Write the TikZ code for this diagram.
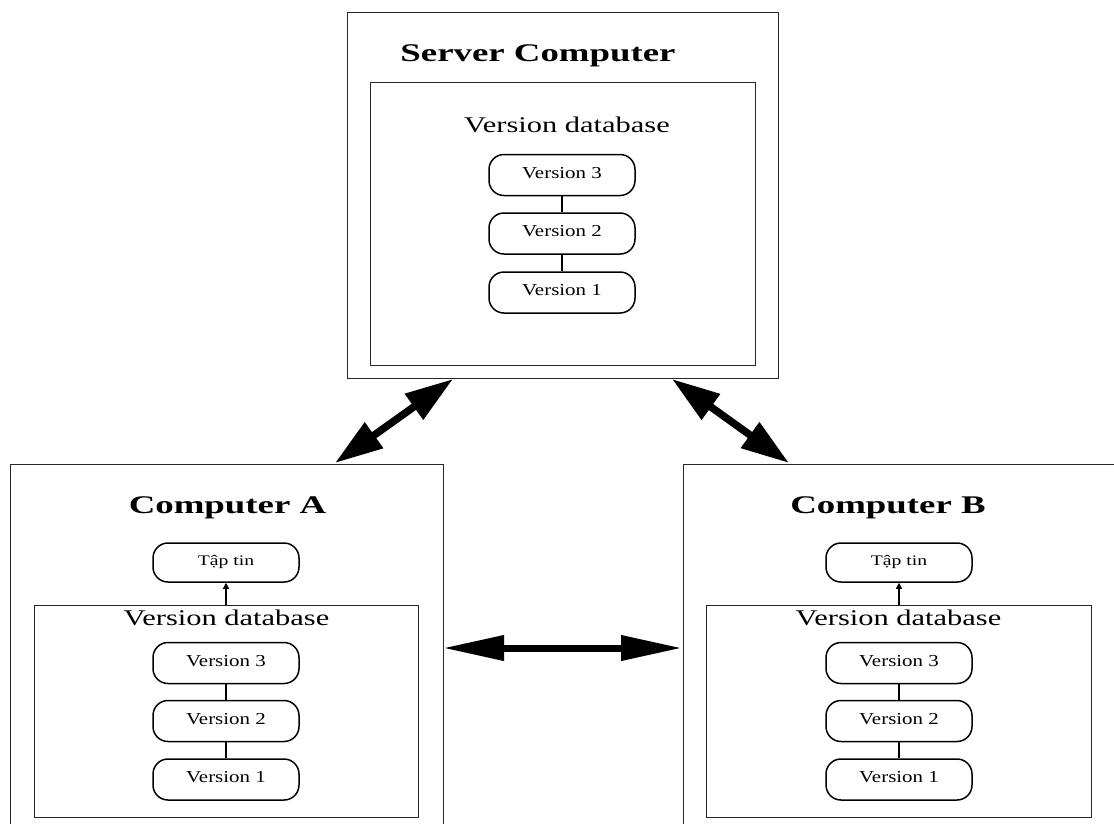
\documentclass[tikz,border=0pt]{standalone}
\usepackage{fontspec}
\setmainfont{Liberation Serif}
\newfontfamily\headfont[FakeStretch=1.45]{Liberation Serif Bold}
\newfontfamily\dbfont[FakeStretch=1.36]{Liberation Serif}
\newfontfamily\verfont[FakeStretch=1.25]{Liberation Serif}
\newfontfamily\filefont[FakeStretch=1.35]{Liberation Serif}
\usetikzlibrary{arrows.meta}

\tikzset{
  frame/.style={draw=black!85, line width=1.3pt, anchor=north west, inner sep=0pt},
  title/.style={anchor=base, inner sep=0pt, font=\headfont\fontsize{25.4}{29}\selectfont},
  dbtitle/.style={anchor=base, inner sep=0pt, font=\dbfont\fontsize{22.4}{26}\selectfont},
  verbox/.style={draw=black, line width=1.5pt, rounded corners=15pt,
    minimum width=146pt, minimum height=41pt, inner sep=0pt,
    text height=0.72em, text depth=0.05em,
    font=\verfont\fontsize{16.75}{20}\selectfont},
  filebox/.style={verbox, minimum height=39pt,
    font=\filefont\fontsize{14.6}{17}\selectfont},
  link/.style={draw=black, line width=2pt},
  sync/.style={line width=7.5pt, {Triangle[length=48pt,width=30pt]}-{Triangle[length=48pt,width=30pt]}},
  hsync/.style={line width=7pt, {Triangle[length=61pt,width=24pt]}-{Triangle[length=61pt,width=24pt]}},
  fetch/.style={line width=1.2pt, -{Triangle[length=6pt,width=6pt]}}
}

\begin{document}
\begin{tikzpicture}[x=1pt, y=-1pt]
  \useasboundingbox (0,0) rectangle (1114,823);
  \clip (0,0) rectangle (1114,823);

  % ---- Server computer ----
  \node[frame, minimum width=431pt, minimum height=366pt] (server) at (347,12) {};
  \node[frame, minimum width=385pt, minimum height=283pt] (serverdb) at (370,82) {};
  \node[title] (servertitle) at (538,61) {Server Computer};
  \node[dbtitle] (serverdbtitle) at (567,132) {Version database};
  \node[verbox] (s3) at (562,175) {Version 3};
  \node[verbox] (s2) at (562,233.5) {Version 2};
  \node[verbox] (s1) at (562,292.5) {Version 1};
  \draw[link] (s3) -- (s2);
  \draw[link] (s2) -- (s1);

  % ---- Computer A ----
  \node[frame, minimum width=433pt, minimum height=440pt] (compa) at (10,464) {};
  \node[frame, minimum width=384pt, minimum height=212pt] (compadb) at (34,605) {};
  \node[title] (compatitle) at (227.5,513) {Computer A};
  \node[filebox] (filea) at (226,562.5) {Tập tin};
  \node[dbtitle] (compadbtitle) at (226.5,625) {Version database};
  \node[verbox] (a3) at (226,663) {Version 3};
  \node[verbox] (a2) at (226,721) {Version 2};
  \node[verbox] (a1) at (226,779.5) {Version 1};
  \draw[link] (a3) -- (a2);
  \draw[link] (a2) -- (a1);
  \draw[fetch] (filea.south |- compadb.north) -- (filea.south);

  % ---- Computer B ----
  \node[frame, minimum width=437pt, minimum height=440pt] (compb) at (683,464) {};
  \node[frame, minimum width=385pt, minimum height=212pt] (compbdb) at (706,605) {};
  \node[title] (compbtitle) at (888,513) {Computer B};
  \node[filebox] (fileb) at (899,562.5) {Tập tin};
  \node[dbtitle] (compbdbtitle) at (898.5,625) {Version database};
  \node[verbox] (b3) at (899,663) {Version 3};
  \node[verbox] (b2) at (899,721) {Version 2};
  \node[verbox] (b1) at (899,779.5) {Version 1};
  \draw[link] (b3) -- (b2);
  \draw[link] (b2) -- (b1);
  \draw[fetch] (fileb.south |- compbdb.north) -- (fileb.south);

  % ---- synchronisation arrows ----
  \coordinate (sa) at (453,379);
  \coordinate (as) at (335,463);
  \coordinate (sb) at (672,379);
  \coordinate (bs) at (789,463);
  \coordinate (ab) at (443,648);
  \coordinate (ba) at (682,648);
  \draw[sync] (sa) -- (as);
  \draw[sync] (sb) -- (bs);
  \draw[hsync] (ab) -- (ba);
\end{tikzpicture}
\end{document}
